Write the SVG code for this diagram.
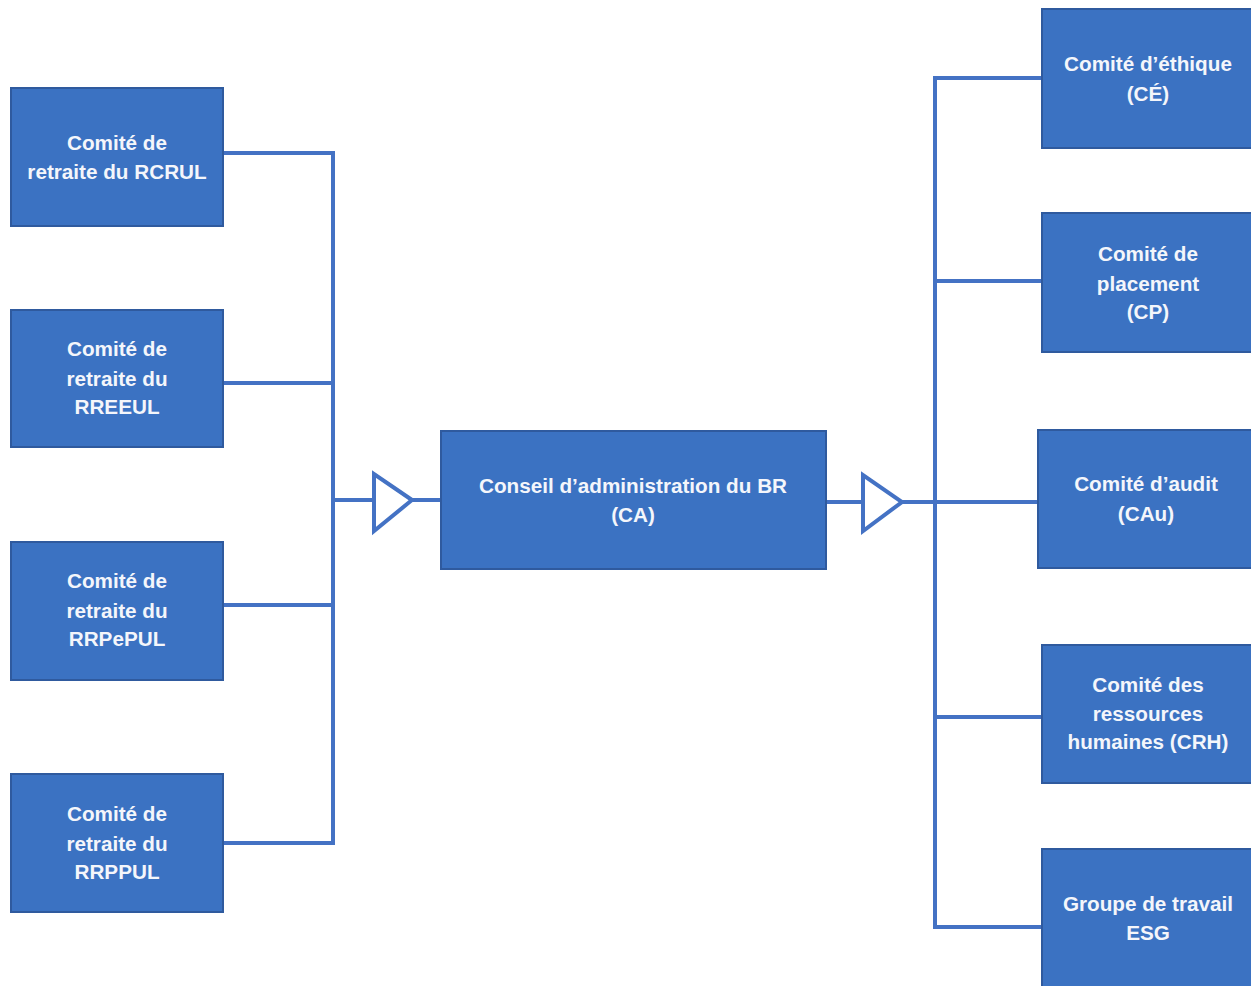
<svg xmlns="http://www.w3.org/2000/svg" width="1251" height="986" viewBox="0 0 1251 986">
<style>
.box{fill:#3b72c2;stroke:#2f5a9e;stroke-width:2}
.t{font-family:"Liberation Sans",Arial,sans-serif;font-weight:bold;font-size:20.7px;fill:#f4f6fb;text-anchor:middle}
.ln{fill:none;stroke:#4472c4;stroke-width:4;stroke-linejoin:miter}
.tri{fill:#ffffff;stroke:#4472c4;stroke-width:4;stroke-linejoin:miter}
</style>
<rect width="1251" height="986" fill="#ffffff"/>
<g id="connectors">
<polyline class="ln" points="223,153 333,153 333,843 223,843"/>
<line class="ln" x1="223" y1="383" x2="333" y2="383"/>
<line class="ln" x1="223" y1="605" x2="333" y2="605"/>
<line class="ln" x1="333" y1="500" x2="374" y2="500"/>
<line class="ln" x1="412" y1="500" x2="441" y2="500"/>
<polygon class="tri" points="374,474 374,531 412,500"/>
<line class="ln" x1="826" y1="502" x2="863" y2="502"/>
<polygon class="tri" points="863,475 863,531 902,502"/>
<line class="ln" x1="902" y1="502" x2="1038" y2="502"/>
<polyline class="ln" points="1042,78 935,78 935,927 1042,927"/>
<line class="ln" x1="935" y1="281" x2="1042" y2="281"/>
<line class="ln" x1="935" y1="717" x2="1042" y2="717"/>
</g>
<g id="n-rcrul">
<rect class="box" x="11" y="88" width="212" height="138"/>
<text class="t" x="117" y="150">Comité de</text>
<text class="t" x="117" y="179">retraite du RCRUL</text>
</g>
<g id="n-rreeul">
<rect class="box" x="11" y="310" width="212" height="137"/>
<text class="t" x="117" y="356">Comité de</text>
<text class="t" x="117" y="386">retraite du</text>
<text class="t" x="117" y="414">RREEUL</text>
</g>
<g id="n-rrpepul">
<rect class="box" x="11" y="542" width="212" height="138"/>
<text class="t" x="117" y="588">Comité de</text>
<text class="t" x="117" y="618">retraite du</text>
<text class="t" x="117" y="646">RRPePUL</text>
</g>
<g id="n-rrppul">
<rect class="box" x="11" y="774" width="212" height="138"/>
<text class="t" x="117" y="821">Comité de</text>
<text class="t" x="117" y="851">retraite du</text>
<text class="t" x="117" y="879">RRPPUL</text>
</g>
<g id="n-ca">
<rect class="box" x="441" y="431" width="385" height="138"/>
<text class="t" x="633" y="493">Conseil d’administration du BR</text>
<text class="t" x="633" y="522">(CA)</text>
</g>
<g id="n-ce">
<rect class="box" x="1042" y="9" width="212" height="139"/>
<text class="t" x="1148" y="71">Comité d’éthique</text>
<text class="t" x="1148" y="101">(CÉ)</text>
</g>
<g id="n-cp">
<rect class="box" x="1042" y="213" width="212" height="139"/>
<text class="t" x="1148" y="261">Comité de</text>
<text class="t" x="1148" y="291">placement</text>
<text class="t" x="1148" y="319">(CP)</text>
</g>
<g id="n-cau">
<rect class="box" x="1038" y="430" width="216" height="138"/>
<text class="t" x="1146" y="491">Comité d’audit</text>
<text class="t" x="1146" y="521">(CAu)</text>
</g>
<g id="n-crh">
<rect class="box" x="1042" y="645" width="212" height="138"/>
<text class="t" x="1148" y="692">Comité des</text>
<text class="t" x="1148" y="721">ressources</text>
<text class="t" x="1148" y="749">humaines (CRH)</text>
</g>
<g id="n-esg">
<rect class="box" x="1042" y="849" width="212" height="145"/>
<text class="t" x="1148" y="911">Groupe de travail</text>
<text class="t" x="1148" y="940">ESG</text>
</g>
</svg>
